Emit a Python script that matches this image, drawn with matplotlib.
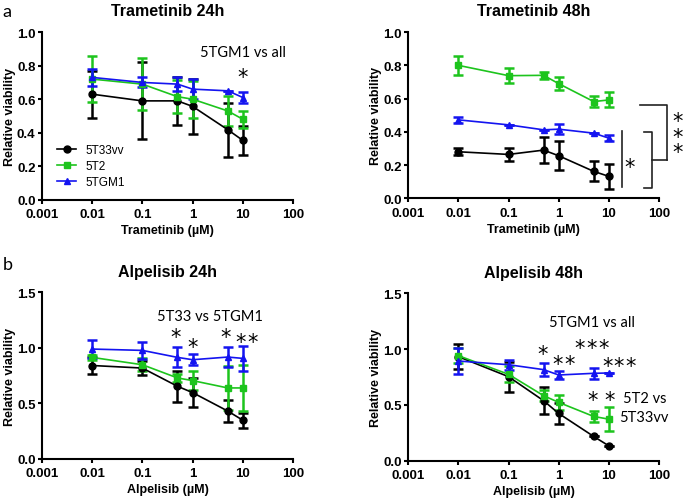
import matplotlib
matplotlib.use("Agg")
import matplotlib.pyplot as plt
from matplotlib.ticker import FixedLocator, FixedFormatter, NullLocator

plt.rcParams['font.family'] = ['Liberation Sans', 'DejaVu Sans']

# concentrations (uM)
conc = [0.01, 0.1, 0.5, 1, 5, 10]
lines = ["5T33vv", "5T2", "5TGM1"]

# Trametinib 24h
tram24_mean = {
    "5T33vv": [0.63, 0.59, 0.59, 0.557, 0.418, 0.354],
    "5T2":    [0.72, 0.69, 0.615, 0.60, 0.53, 0.48],
    "5TGM1":  [0.73, 0.70, 0.69, 0.66, 0.65, 0.61],
}
tram24_sd = {
    "5T33vv": [0.14, 0.23, 0.145, 0.165, 0.16, 0.088],
    "5T2":    [0.135, 0.155, 0.10, 0.11, 0.09, 0.05],
    "5TGM1":  [0.05, 0.03, 0.04, 0.06, 0.0, 0.03],
}

# Trametinib 48h
tram48_mean = {
    "5T33vv": [0.28, 0.264, 0.29, 0.256, 0.162, 0.132],
    "5T2":    [0.80, 0.738, 0.74, 0.69, 0.582, 0.592],
    "5TGM1":  [0.472, 0.442, 0.412, 0.416, 0.392, 0.362],
}
tram48_sd = {
    "5T33vv": [0.02, 0.04, 0.08, 0.088, 0.06, 0.075],
    "5T2":    [0.055, 0.045, 0.02, 0.04, 0.035, 0.045],
    "5TGM1":  [0.02, 0.0, 0.0, 0.03, 0.0, 0.02],
}

# Alpelisib 24h
alp24_mean = {
    "5T33vv": [0.84, 0.817, 0.653, 0.596, 0.43, 0.347],
    "5T2":    [0.913, 0.847, 0.728, 0.704, 0.638, 0.638],
    "5TGM1":  [0.988, 0.976, 0.913, 0.892, 0.916, 0.904],
}
alp24_sd = {
    "5T33vv": [0.078, 0.065, 0.14, 0.13, 0.10, 0.068],
    "5T2":    [0.02, 0.06, 0.04, 0.085, 0.20, 0.205],
    "5TGM1":  [0.08, 0.075, 0.09, 0.05, 0.09, 0.11],
}

# Alpelisib 48h
alp48_mean = {
    "5T33vv": [0.932, 0.753, 0.538, 0.424, 0.218, 0.134],
    "5T2":    [0.941, 0.774, 0.583, 0.523, 0.397, 0.373],
    "5TGM1":  [0.893, 0.86, 0.816, 0.768, 0.783, 0.786],
}
alp48_sd = {
    "5T33vv": [0.11, 0.135, 0.12, 0.095, 0.0, 0.0],
    "5T2":    [0.07, 0.07, 0.05, 0.07, 0.05, 0.11],
    "5TGM1":  [0.12, 0.045, 0.06, 0.04, 0.05, 0.0],
}

colors = {"5T33vv": "#000000", "5T2": "#1DC41D", "5TGM1": "#1414F0"}
markers = {"5T33vv": "o", "5T2": "s", "5TGM1": "^"}

ann_font = ['Lato', 'DejaVu Sans']


def draw_panel(ax, mean, sd, title, xlabel, ymax, yticks):
    for name in lines:
        ax.errorbar(conc, mean[name], yerr=sd[name], color=colors[name],
                    marker=markers[name], markersize=5, linewidth=1.2,
                    elinewidth=1.8, capsize=3.5, capthick=1.8, label=name,
                    clip_on=False, zorder=3)
    ax.set_xscale("log")
    ax.set_xlim(0.001, 100)
    ax.set_ylim(0, ymax)
    ax.xaxis.set_major_locator(FixedLocator([0.001, 0.01, 0.1, 1, 10, 100]))
    ax.xaxis.set_major_formatter(FixedFormatter(["0.001", "0.01", "0.1", "1", "10", "100"]))
    ax.xaxis.set_minor_locator(NullLocator())
    ax.set_yticks(yticks)
    ax.set_yticklabels([f"{t:.1f}" for t in yticks])
    for s in ["top", "right"]:
        ax.spines[s].set_visible(False)
    for s in ["left", "bottom"]:
        ax.spines[s].set_linewidth(1.5)
    ax.tick_params(width=1.5, length=3, labelsize=9.5)
    ax.tick_params(axis="x", pad=3)
    ax.tick_params(axis="y", pad=1.5)
    for lab in ax.get_xticklabels() + ax.get_yticklabels():
        lab.set_fontweight("bold")
    ax.set_title(title, fontsize=11.5, fontweight="bold", pad=12)
    ax.set_xlabel(xlabel, fontsize=9, fontweight="bold", labelpad=3)
    ax.set_ylabel("Relative viability", fontsize=9, fontweight="bold", labelpad=1)


def stars(ax, x, y, n=1, pitch=8.6, fs=15):
    # asterisks centred on (x, y), spread horizontally by pitch (points)
    for i in range(n):
        dx = (i - (n - 1) / 2) * pitch
        ax.annotate("*", (x, y), xytext=(dx, -0.555 * fs), textcoords="offset points",
                    ha="center", va="baseline", fontsize=fs, family="DejaVu Sans",
                    annotation_clip=False)


fig = plt.figure(figsize=(6.85, 5.02), dpi=100)

ax1 = fig.add_axes([0.061, 0.600, 0.367, 0.334])
ax2 = fig.add_axes([0.596, 0.603, 0.366, 0.331])
ax3 = fig.add_axes([0.061, 0.084, 0.367, 0.332])
ax4 = fig.add_axes([0.596, 0.080, 0.366, 0.334])

draw_panel(ax1, tram24_mean, tram24_sd, "Trametinib 24h", "Trametinib (µM)", 1.0,
           [0.0, 0.2, 0.4, 0.6, 0.8, 1.0])
draw_panel(ax2, tram48_mean, tram48_sd, "Trametinib 48h", "Trametinib (µM)", 1.0,
           [0.0, 0.2, 0.4, 0.6, 0.8, 1.0])
draw_panel(ax3, alp24_mean, alp24_sd, "Alpelisib 24h", "Alpelisib (µM)", 1.5,
           [0.0, 0.5, 1.0, 1.5])
draw_panel(ax4, alp48_mean, alp48_sd, "Alpelisib 48h", "Alpelisib (µM)", 1.5,
           [0.0, 0.5, 1.0, 1.5])

# legend only in first panel
handles, labels = ax1.get_legend_handles_labels()
handles = [h[0] for h in handles]
ax1.legend(handles, labels, loc="lower left", bbox_to_anchor=(0.02, 0.005),
           frameon=False, fontsize=8.5, handlelength=1.6, handletextpad=0.8,
           labelspacing=0.35)

# annotations: Trametinib 24h
ax1.text(10, 0.88, "5TGM1 vs all", ha="center", va="center", fontsize=10.5, family=ann_font)
stars(ax1, 10, 0.765)

# annotations: Trametinib 48h (brackets)
br = dict(color="#222222", lw=1.2, clip_on=False)
ax2.plot([18, 18], [0.404, 0.068], **br)
stars(ax2, 26, 0.224)
ax2.plot([50, 72, 72, 50], [0.398, 0.398, 0.062, 0.062], **br)
ax2.plot([72, 144], [0.23, 0.23], **br)
ax2.plot([42, 144, 144], [0.56, 0.56, 0.23], **br)
ax2.text(240, 0.37, "*\n*\n*", ha="center", va="center", fontsize=15,
         family="DejaVu Sans", linespacing=0.72)

# annotations: Alpelisib 24h
ax3.text(2.2, 1.29, "5T33 vs 5TGM1", ha="center", va="center", fontsize=10.5, family=ann_font)
stars(ax3, 0.45, 1.144)
stars(ax3, 1.0, 1.054)
stars(ax3, 4.6, 1.144)
stars(ax3, 12, 1.099, n=2)

# annotations: Alpelisib 48h
ax4.text(4.6, 1.245, "5TGM1 vs all", ha="center", va="center", fontsize=10.5, family=ann_font)
stars(ax4, 0.48, 1.007)
stars(ax4, 1.24, 0.918, n=2)
stars(ax4, 4.6, 1.061, n=3)
stars(ax4, 16, 0.896, n=3)
stars(ax4, 6.9, 0.59, n=2, pitch=12)
ax4.text(51, 0.562, "5T2 vs", ha="center", va="center", fontsize=10.5, family=ann_font)
ax4.text(50, 0.389, "5T33vv", ha="center", va="center", fontsize=10.5, family=ann_font)

# panel letters
fig.text(0.004, 1 - 12 / 502, "a", fontsize=13, va="center", family=ann_font)
fig.text(0.004, 1 - 265 / 502, "b", fontsize=13, va="center", family=ann_font)

fig.savefig("out.png", dpi=100)
